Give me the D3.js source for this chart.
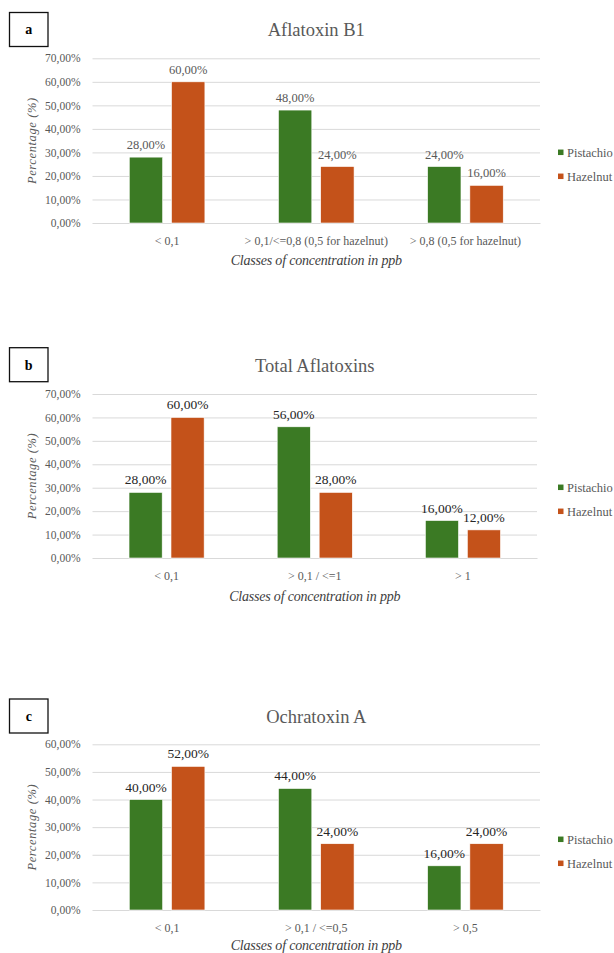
<!DOCTYPE html>
<html>
<head>
<meta charset="utf-8">
<script src="https://cdn.jsdelivr.net/npm/d3@7"></script>
<style>
  html, body { margin: 0; padding: 0; background: #ffffff; }
  svg { display: block; }
  text { font-family: "Liberation Serif", "DejaVu Serif", serif; }
</style>
</head>
<body>
<div id="chart"></div>
<script>
// ---------------- data ----------------
const seriesNames = ["Pistachio", "Hazelnut"];
const seriesColors = ["#3B7A24", "#C4521A"];

const panelLetters = ["a", "b", "c"];
const panelTitles = ["Aflatoxin B1", "Total Aflatoxins", "Ochratoxin A"];

const categoriesA = ["< 0,1", "> 0,1/<=0,8 (0,5 for hazelnut)", "> 0,8 (0,5 for hazelnut)"];
const pistachioA = [28, 48, 24];
const hazelnutA = [60, 24, 16];

const categoriesB = ["< 0,1", "> 0,1 / <=1", "> 1"];
const pistachioB = [28, 56, 16];
const hazelnutB = [60, 28, 12];

const categoriesC = ["< 0,1", "> 0,1 / <=0,5", "> 0,5"];
const pistachioC = [40, 44, 16];
const hazelnutC = [52, 24, 24];

const ticksAB = [0, 10, 20, 30, 40, 50, 60, 70];
const ticksC = [0, 10, 20, 30, 40, 50, 60];

const xAxisTitle = "Classes of concentration in ppb";
const yAxisTitle = "Percentage (%)";

// ---------------- layout ----------------
const W = 614, H = 953;
const panels = [
  { letter: panelLetters[0], title: panelTitles[0], cats: categoriesA, vals: [pistachioA, hazelnutA], ticks: ticksAB,
    boxTop: 12.5, plotTop: 58.3, plotBottom: 223, x0: 92.5, x1: 540, labelColor: "#595959", labelSize: 12.5, xtOff: 37 },
  { letter: panelLetters[1], title: panelTitles[1], cats: categoriesB, vals: [pistachioB, hazelnutB], ticks: ticksAB,
    boxTop: 347.7, plotTop: 394, plotBottom: 558, x0: 92.5, x1: 537, labelColor: "#262626", labelSize: 13.5, xtOff: 38.5 },
  { letter: panelLetters[2], title: panelTitles[2], cats: categoriesC, vals: [pistachioC, hazelnutC], ticks: ticksC,
    boxTop: 699, plotTop: 744.3, plotBottom: 910, x0: 92.5, x1: 540, labelColor: "#262626", labelSize: 13.5, xtOff: 35.5 }
];

const fmt = v => d3.format(".2f")(v).replace(".", ",") + "%";

const svg = d3.select("#chart").append("svg")
  .attr("width", W).attr("height", H);

panels.forEach(p => {
  const g = svg.append("g");

  const y = d3.scaleLinear()
    .domain([0, d3.max(p.ticks)])
    .range([p.plotBottom, p.plotTop]);

  const x = d3.scaleBand()
    .domain(p.cats)
    .range([p.x0, p.x1])
    .paddingInner(0).paddingOuter(0);

  const groupW = x.bandwidth() * 0.507;
  const xs = d3.scaleBand()
    .domain(seriesNames)
    .range([0, groupW])
    .paddingInner(0.21).paddingOuter(0);

  // letter box
  g.append("rect")
    .attr("x", 9.5).attr("y", p.boxTop)
    .attr("width", 38.5).attr("height", 34)
    .attr("fill", "none").attr("stroke", "#111").attr("stroke-width", 1.3);
  g.append("text")
    .attr("x", 9.5 + 19.25).attr("y", p.boxTop + 17)
    .attr("dy", "0.35em").attr("text-anchor", "middle")
    .attr("font-weight", "bold").attr("font-size", 14).attr("fill", "#000")
    .text(p.letter);

  // title
  g.append("text")
    .attr("x", (p.x0 + p.x1) / 2).attr("y", p.boxTop + 17.5)
    .attr("dy", "0.35em").attr("text-anchor", "middle")
    .attr("font-size", 18.5).attr("fill", "#595959")
    .text(p.title);

  // gridlines + y axis
  const yAxis = d3.axisLeft(y).tickValues(p.ticks).tickFormat(fmt)
    .tickSize(-(p.x1 - p.x0)).tickPadding(12);
  const ya = g.append("g").attr("transform", `translate(${p.x0},0)`).call(yAxis);
  ya.select(".domain").remove();
  ya.selectAll(".tick line").attr("stroke", "#D9D9D9").attr("stroke-width", 1);
  ya.selectAll(".tick text")
    .attr("font-family", "Liberation Serif, serif")
    .attr("font-size", 11.5).attr("fill", "#595959");

  // x axis (category labels)
  const xAxis = d3.axisBottom(x).tickSize(0).tickPadding(13);
  const xa = g.append("g").attr("transform", `translate(0,${p.plotBottom})`).call(xAxis);
  xa.select(".domain").attr("stroke", "#D9D9D9");
  xa.selectAll(".tick text")
    .attr("font-family", "Liberation Serif, serif")
    .attr("font-size", 12).attr("fill", "#595959");

  // bars
  seriesNames.forEach((s, si) => {
    const vals = p.vals[si];
    const bx = (c) => x(c) + (x.bandwidth() - groupW) / 2 + xs(s);
    g.append("g").selectAll("rect")
      .data(p.cats.map((c, i) => ({ c, v: vals[i] })))
      .join("rect")
      .attr("x", d => bx(d.c))
      .attr("y", d => y(d.v))
      .attr("width", xs.bandwidth())
      .attr("height", d => y(0) - y(d.v))
      .attr("fill", seriesColors[si])
      .attr("stroke", "#fff").attr("stroke-width", 0.6);

    g.append("g").selectAll("text")
      .data(p.cats.map((c, i) => ({ c, v: vals[i] })))
      .join("text")
      .attr("x", d => bx(d.c) + xs.bandwidth() / 2)
      .attr("y", d => y(d.v) - 8)
      .attr("text-anchor", "middle")
      .attr("font-size", p.labelSize).attr("fill", p.labelColor)
      .text(d => fmt(d.v));
  });

  // axis titles
  g.append("text")
    .attr("x", (p.x0 + p.x1) / 2).attr("y", p.plotBottom + p.xtOff)
    .attr("dy", "0.35em").attr("text-anchor", "middle")
    .attr("font-style", "italic").attr("font-size", 14).attr("fill", "#404040")
    .attr("letter-spacing", "-0.2")
    .text(xAxisTitle);

  const ymid = (p.plotTop + p.plotBottom) / 2;
  g.append("text")
    .attr("transform", `translate(32,${ymid}) rotate(-90)`)
    .attr("dy", "0.35em").attr("text-anchor", "middle")
    .attr("font-style", "italic").attr("font-size", 12.5).attr("fill", "#595959")
    .attr("letter-spacing", "0.6")
    .text(yAxisTitle);

  // legend
  seriesNames.forEach((s, si) => {
    const ly = p.plotBottom - 70.7 + si * 24;
    g.append("rect")
      .attr("x", 558).attr("y", ly - 2.75)
      .attr("width", 5.5).attr("height", 5.5)
      .attr("fill", seriesColors[si]);
    g.append("text")
      .attr("x", 567).attr("y", ly)
      .attr("dy", "0.35em")
      .attr("font-size", 12.5).attr("fill", "#595959")
      .text(s);
  });
});
</script>
</body>
</html>
